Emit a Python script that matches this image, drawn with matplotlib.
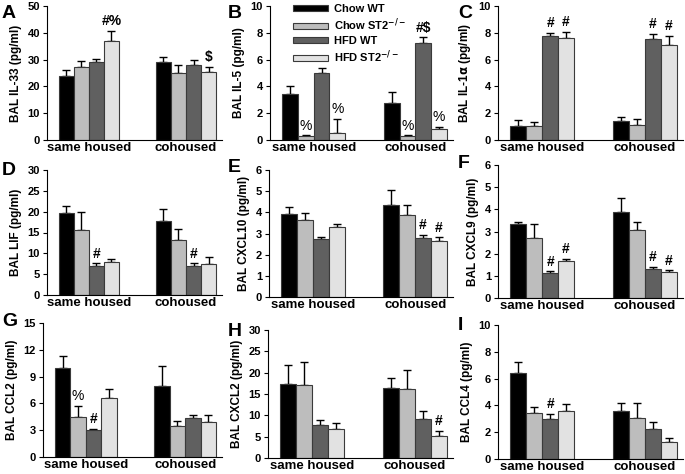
import matplotlib
matplotlib.use('Agg')
import matplotlib.pyplot as plt
import numpy as np

plt.rcParams['font.family'] = ['Liberation Sans', 'DejaVu Sans']
plt.rcParams['font.weight'] = 'bold'

groups = ['same housed', 'cohoused']
series = ['Chow WT', 'Chow ST2$^{-/-}$', 'HFD WT', 'HFD ST2$^{-/-}$']
colors = ['#000000', '#bdbdbd', '#606060', '#e2e2e2']

# means and SEM per group: [same housed, cohoused], each with 4 series
il33_mean = [[24, 27.3, 29, 37], [29, 25, 27.8, 25.4]]
il33_sem = [[2, 2, 1.3, 3.7], [2, 2.8, 2, 1.9]]
il5_mean = [[3.4, 0.3, 5.0, 0.55], [2.75, 0.3, 7.25, 0.85]]
il5_sem = [[0.65, 0.05, 0.4, 1.0], [0.85, 0.05, 0.4, 0.1]]
il1a_mean = [[1.05, 1.05, 7.75, 7.6], [1.45, 1.15, 7.55, 7.1]]
il1a_sem = [[0.45, 0.3, 0.25, 0.45], [0.25, 0.45, 0.35, 0.65]]
lif_mean = [[19.8, 15.5, 7.0, 8.0], [17.7, 13.1, 6.9, 7.5]]
lif_sem = [[1.5, 4.5, 0.6, 0.6], [3.0, 2.7, 0.7, 1.6]]
cxcl10_mean = [[3.9, 3.62, 2.75, 3.32], [4.37, 3.87, 2.8, 2.65]]
cxcl10_sem = [[0.35, 0.33, 0.07, 0.15], [0.68, 0.46, 0.15, 0.17]]
cxcl9_mean = [[3.35, 2.7, 1.15, 1.65], [3.87, 3.07, 1.32, 1.17]]
cxcl9_sem = [[0.1, 0.65, 0.05, 0.1], [0.65, 0.38, 0.1, 0.08]]
ccl2_mean = [[10.0, 4.5, 3.0, 6.65], [7.95, 3.45, 4.4, 3.95]]
ccl2_sem = [[1.3, 1.2, 0.15, 0.95], [2.2, 0.6, 0.3, 0.7]]
cxcl2_mean = [[17.4, 17.1, 7.8, 6.9], [16.5, 16.2, 9.2, 5.1]]
cxcl2_sem = [[4.5, 5.5, 1.2, 1.2], [2.2, 4.4, 1.9, 1.2]]
ccl4_mean = [[6.45, 3.45, 2.95, 3.55], [3.55, 3.05, 2.25, 1.25]]
ccl4_sem = [[0.8, 0.45, 0.4, 0.55], [0.6, 1.1, 0.5, 0.3]]

# significance marks: (group, series, text)
il33_sig = [(0, 3, '#%'), (1, 3, '$')]
il5_sig = [(0, 1, '%'), (0, 3, '%'), (1, 1, '%'), (1, 2, '#$'), (1, 3, '%')]
il1a_sig = [(0, 2, '#'), (0, 3, '#'), (1, 2, '#'), (1, 3, '#')]
lif_sig = [(0, 2, '#'), (1, 2, '#')]
cxcl10_sig = [(1, 2, '#'), (1, 3, '#')]
cxcl9_sig = [(0, 2, '#'), (0, 3, '#'), (1, 2, '#'), (1, 3, '#')]
ccl2_sig = [(0, 1, '%'), (0, 2, '#')]
cxcl2_sig = [(1, 3, '#')]
ccl4_sig = [(0, 2, '#')]

panels = [
    ('A', 'BAL IL-33 (pg/ml)', il33_mean, il33_sem, il33_sig, 50, 10),
    ('B', 'BAL IL-5 (pg/ml)', il5_mean, il5_sem, il5_sig, 10, 2),
    ('C', r'BAL IL-1$\mathbf{\alpha}$ (pg/ml)', il1a_mean, il1a_sem, il1a_sig, 10, 2),
    ('D', 'BAL LIF (pg/ml)', lif_mean, lif_sem, lif_sig, 30, 5),
    ('E', 'BAL CXCL10 (pg/ml)', cxcl10_mean, cxcl10_sem, cxcl10_sig, 6, 1),
    ('F', 'BAL CXCL9 (pg/ml)', cxcl9_mean, cxcl9_sem, cxcl9_sig, 6, 1),
    ('G', 'BAL CCL2 (pg/ml)', ccl2_mean, ccl2_sem, ccl2_sig, 15, 3),
    ('H', 'BAL CXCL2 (pg/ml)', cxcl2_mean, cxcl2_sem, cxcl2_sig, 30, 5),
    ('I', 'BAL CCL4 (pg/ml)', ccl4_mean, ccl4_sem, ccl4_sig, 10, 2),
]

W, H = 685, 474
fig = plt.figure(figsize=(W / 100, H / 100), dpi=100)

# axes boxes in pixels: left, top, right, bottom
boxes = [
    (47, 6, 222, 140), (270, 6, 453, 140), (498, 6, 683, 140),
    (47, 170, 222, 295), (269, 170, 453, 297), (498, 165, 683, 298),
    (43, 323, 222, 457), (268, 330, 453, 458), (498, 325, 683, 459),
]
letter_pos = [(2, 13), (228, 13), (458, 13), (2, 170), (228, 167), (458, 164),
              (2, 322), (228, 331), (458, 325)]

w = 0.155
x = np.arange(len(groups))

for (letter, ylabel, mean, sem, sig, ymax, step), (l, t, r, b), (lx, ly) in zip(panels, boxes, letter_pos):
    ax = fig.add_axes([l / W, 1 - b / H, (r - l) / W, (b - t) / H])
    mean = np.array(mean)
    sem = np.array(sem)
    for i in range(4):
        xi = x + (i - 1.5) * w
        ax.bar(xi, mean[:, i], w, color=colors[i], edgecolor='#3a3a3a', linewidth=0.8,
               label=series[i], zorder=2)
        ax.errorbar(xi, mean[:, i], yerr=[np.zeros(2), sem[:, i]], fmt='none',
                    ecolor='black', elinewidth=1, capsize=3, capthick=1, zorder=1)
    for g, i, txt in sig:
        ax.annotate(txt, (x[g] + (i - 1.5) * w, mean[g, i] + sem[g, i]),
                    xytext=(0, 2), textcoords='offset points', ha='center', va='bottom',
                    fontsize=10, fontweight='normal' if '%' in txt and '#' not in txt else 'bold')
    ax.set_xlim(-0.43, 1.37)
    ax.set_ylim(0, ymax)
    ax.set_yticks(np.arange(0, ymax + step / 2, step))
    ax.set_xticks(x)
    ax.set_xticklabels(groups, fontsize=9.5, fontweight='bold')
    ax.tick_params(axis='x', length=0, pad=1.5)
    ax.tick_params(axis='y', length=3, labelsize=8, pad=2)
    for lab in ax.get_yticklabels():
        lab.set_fontweight('bold')
    ax.set_ylabel(ylabel, fontsize=8.5, fontweight='bold', labelpad=4)
    ax.spines['top'].set_visible(False)
    ax.spines['right'].set_visible(False)
    fig.text(lx / W, 1 - ly / H, letter, fontsize=14, fontweight='bold', va='center', ha='left')
    if letter == 'B':
        ax.legend(loc='upper left', bbox_to_anchor=(0.1, 1.05), frameon=False,
                  handlelength=3.2, handleheight=0.5, labelspacing=0.25, handletextpad=0.5,
                  prop={'size': 8, 'weight': 'bold'}, borderaxespad=0)

fig.savefig('out.png', dpi=100)
